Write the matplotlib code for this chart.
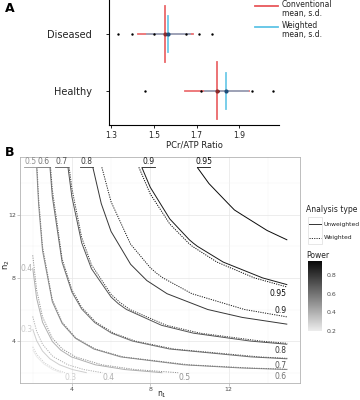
import matplotlib
matplotlib.use('Agg')
import matplotlib.pyplot as plt
import numpy as np
from matplotlib.colors import LinearSegmentedColormap, Normalize
from matplotlib.lines import Line2D

# ---- panel A data ----
groups = ['Diseased', 'Healthy']
diseased_vals = [1.33, 1.40, 1.50, 1.56, 1.65, 1.71, 1.77]
healthy_vals = [1.46, 1.72, 1.80, 1.84, 1.96, 2.06]
conv_mean = [1.554, 1.795]
conv_sd = [0.127, 0.15]
wtd_mean = [1.567, 1.84]
wtd_sd = [0.10, 0.10]

# ---- panel B data: contour lines, (n1, n2) ----
u95 = [(10.4, 15), (11, 13.97), (12, 12.68), (12.3, 12.3), (12.68, 12), (13.97, 11), (15, 10.4)]
u90 = [(7.57, 15), (8, 13.74), (9, 11.73), (10, 10.41), (10.2, 10.2), (10.41, 10), (11.73, 9),
       (13.74, 8), (15, 7.57)]
u80 = [(5.07, 15), (5.5, 12.7), (6, 10.94), (7, 8.86), (7.83, 7.83), (8.86, 7), (10.94, 6),
       (12.7, 5.5), (15, 5.07)]
u70 = [(3.8, 15), (4, 13.13), (4.5, 10.22), (5, 8.58), (6, 6.79), (6.37, 6.37), (6.79, 6),
       (8.58, 5), (10.22, 4.5), (13.13, 4), (15, 3.8)]
u60 = [(2.88, 15), (3, 13.15), (3.5, 8.99), (4, 7.1), (4.5, 6.03), (5.17, 5.17), (6.03, 4.5),
       (7.1, 4), (8.99, 3.5), (13.15, 3), (15, 2.88)]
u50 = [(2.2, 15), (2.3, 12.63), (2.5, 9.72), (3, 6.49), (3.5, 5.12), (4.18, 4.18), (5.12, 3.5),
       (6.49, 3), (9.72, 2.5), (12.63, 2.3), (15, 2.2)]
u40 = [(2, 8.62), (2.2, 6.71), (2.5, 5.2), (3, 3.98), (3.43, 3.43), (3.98, 3), (5.2, 2.5),
       (6.71, 2.2), (8.62, 2)]
u30 = [(2, 4.76), (2.2, 4.03), (2.5, 3.37), (2.88, 2.88), (3.37, 2.5), (4.03, 2.2), (4.76, 2)]
u20 = [(2, 3.45), (2.2, 3.02), (2.56, 2.56), (3.02, 2.2), (3.45, 2)]

w95 = [(7.42, 15), (8, 13.32), (9, 11.41), (10, 10.15), (10.08, 10.08), (10.15, 10), (11.41, 9),
       (13.32, 8), (15, 7.42)]
w90 = [(5.53, 15), (6, 12.82), (7, 10.13), (8, 8.65), (8.31, 8.31), (8.65, 8), (10.13, 7),
       (12.82, 6), (15, 5.53)]
w80 = [(3.86, 15), (4, 13.66), (4.5, 10.56), (5, 8.83), (6, 6.96), (6.45, 6.45), (6.96, 6),
       (8.83, 5), (10.56, 4.5), (13.66, 4), (15, 3.86)]
w70 = [(2.91, 15), (3, 13.59), (3.5, 9.21), (4, 7.25), (4.5, 6.14), (5.21, 5.21), (6.14, 4.5),
       (7.25, 4), (9.21, 3.5), (13.59, 3), (15, 2.91)]
w60 = [(2.22, 15), (2.3, 13.04), (2.5, 9.98), (3, 6.62), (3.5, 5.2), (4.2, 4.2), (5.2, 3.5),
       (6.62, 3), (9.98, 2.5), (13.04, 2.3), (15, 2.22)]
w50 = [(2, 9.43), (2.2, 7.23), (2.5, 5.53), (3, 4.19), (3.51, 3.51), (4.19, 3), (5.53, 2.5),
       (7.23, 2.2), (9.43, 2)]
w40 = [(2, 5.56), (2.2, 4.62), (2.5, 3.8), (3.03, 3.03), (3.8, 2.5), (4.62, 2.2), (5.56, 2)]
w30 = [(2, 3.64), (2.2, 3.17), (2.61, 2.61), (3.17, 2.2), (3.64, 2)]

unweighted = [(0.95, u95), (0.9, u90), (0.8, u80), (0.7, u70), (0.6, u60),
              (0.5, u50), (0.4, u40), (0.3, u30), (0.2, u20)]
weighted = [(0.95, w95), (0.9, w90), (0.8, w80), (0.7, w70), (0.6, w60),
            (0.5, w50), (0.4, w40), (0.3, w30)]

W, H = 360, 400
fig = plt.figure(figsize=(3.6, 4.0), dpi=100)

def box(l, t, r, b):
    return [l / W, 1 - b / H, (r - l) / W, (b - t) / H]

def fmt(v):
    return ('%.2f' % v).rstrip('0')

red = '#e8575a'
blue = '#5ec4e6'
txt = '#222222'

# ================= panel A =================
axA = fig.add_axes(box(109, 0, 279, 125))
ypos = [1, 2]
for y, vals in zip(ypos, [diseased_vals, healthy_vals]):
    axA.scatter(vals, [y] * len(vals), s=3, color='black', zorder=4, linewidths=0)
for i, y in enumerate(ypos):
    m, s = conv_mean[i], conv_sd[i]
    axA.plot([m - s, m + s], [y, y], color=red, lw=1.3, alpha=0.85, zorder=2)
    axA.plot([m, m], [y - 0.5, y + 0.5], color=red, lw=1.3, alpha=0.9, zorder=2)
    mw, sw = wtd_mean[i], wtd_sd[i]
    axA.plot([mw - sw, mw + sw], [y, y], color=blue, lw=1.3, alpha=0.6, zorder=3)
    axA.plot([mw, mw], [y - 0.32, y + 0.32], color=blue, lw=1.3, alpha=0.9, zorder=3)
    axA.scatter([m], [y], s=9, color='#8b2a2a', zorder=5, linewidths=0)
    axA.scatter([mw], [y], s=9, color='#1f4e79', zorder=5, linewidths=0)

axA.set_xlim(1.29, 2.086)
axA.set_ylim(2.6, 0.4)
axA.set_yticks(ypos)
axA.set_yticklabels(groups, fontsize=7, color=txt)
axA.set_xticks([1.3, 1.5, 1.7, 1.9])
axA.set_xticklabels(['1.3', '1.5', '1.7', '1.9'], fontsize=5.5, color=txt)
axA.set_xlabel('PCr/ATP Ratio', fontsize=6, labelpad=1, color=txt)
for sp in ['top', 'right']:
    axA.spines[sp].set_visible(False)
for sp in ['left', 'bottom']:
    axA.spines[sp].set_linewidth(0.8)
axA.tick_params(length=2.5, width=0.6, pad=1.5)
axA.tick_params(axis='y', pad=10)
fig.text(5 / W, 1 - 8 / H, 'A', fontsize=9, fontweight='bold', va='center')

# legend A
fig.add_artist(Line2D([255 / W, 278 / W], [1 - 6 / H, 1 - 6 / H], color=red, lw=1.3))
fig.add_artist(Line2D([255 / W, 278 / W], [1 - 27 / H, 1 - 27 / H], color=blue, lw=1.3))
fig.text(282 / W, 1 - 9 / H, 'Conventional\nmean, s.d.', fontsize=5.5, va='center',
         linespacing=1.0, color=txt)
fig.text(282 / W, 1 - 30 / H, 'Weighted\nmean, s.d.', fontsize=5.5, va='center',
         linespacing=1.0, color=txt)

# ================= panel B =================
axB = fig.add_axes(box(20, 157, 300, 383))
cmap = LinearSegmentedColormap.from_list('pw', ['#ececec', '#0a0a0a'])
norm = Normalize(0.2, 0.95)

for lev, pts in unweighted:
    x, y = zip(*pts)
    axB.plot(x, y, color=cmap(norm(lev)), lw=0.7, solid_capstyle='butt', solid_joinstyle='round')
for lev, pts in weighted:
    x, y = zip(*pts)
    axB.plot(x, y, color=cmap(norm(lev)), lw=0.7, ls=(0, (1.2, 1.2)))

lab_fs = 5.5
# top labels (unweighted), underlined
for lev, pts in unweighted:
    if pts[0][1] >= 14.9:
        x0 = pts[0][0]
        c = cmap(norm(lev))
        if lev >= 0.85:
            xa, xb = x0, x0 + 0.65
        else:
            xa, xb = x0 - 0.65, x0
        axB.text((xa + xb) / 2, 15.1, fmt(lev), fontsize=lab_fs, color=c, ha='center',
                 va='bottom')
        axB.plot([xa, xb], [15.0, 15.0], color=c, lw=0.6)
# right labels (weighted)
for lev, pts in weighted:
    if pts[-1][0] >= 14.9:
        y_end = pts[-1][1]
        if lev == 0.9:
            axB.text(14.97, y_end + 0.15, fmt(lev), fontsize=lab_fs, color=cmap(norm(lev)),
                     ha='right', va='bottom')
        else:
            axB.text(14.97, y_end - 0.15, fmt(lev), fontsize=lab_fs, color=cmap(norm(lev)),
                     ha='right', va='top')
# bottom labels (weighted)
for lev, pts in weighted:
    if pts[-1][1] <= 2.05:
        axB.text(pts[-1][0], 1.72, fmt(lev), fontsize=lab_fs, color=cmap(norm(lev)),
                 ha='left', va='center')
# left labels (unweighted)
for lev, pts in unweighted:
    if pts[0][0] <= 2.05 and lev > 0.25:
        axB.text(1.97, pts[0][1] - 0.05, fmt(lev), fontsize=lab_fs, color=cmap(norm(lev)),
                 ha='right', va='center')

axB.set_xlim(1.35, 15.65)
axB.set_ylim(1.35, 15.65)
axB.set_xticks([4, 8, 12])
axB.set_yticks([4, 8, 12])
axB.set_xticks([2, 6, 10, 14], minor=True)
axB.set_yticks([2, 6, 10, 14], minor=True)
axB.grid(which='major', color='#e6e6e6', lw=0.5)
axB.grid(which='minor', color='#f2f2f2', lw=0.3)
axB.set_axisbelow(True)
for sp in axB.spines.values():
    sp.set_color('#b3b3b3')
    sp.set_linewidth(0.6)
axB.tick_params(which='major', length=2, width=0.5, color='#b3b3b3', labelsize=4.5,
                labelcolor='#4d4d4d', pad=1)
axB.tick_params(which='minor', length=0)
fig.text(162 / W, 1 - 395 / H, r'n$_1$', fontsize=5.5, color=txt, ha='center', va='center')
fig.text(7 / W, 1 - 265 / H, r'n$_2$', fontsize=6, color=txt, ha='center', va='center',
         rotation=90)
fig.text(5 / W, 1 - 152 / H, 'B', fontsize=9, fontweight='bold', va='center')

# legend B
fig.text(306 / W, 1 - 210 / H, 'Analysis type', fontsize=5.5, va='center', color=txt)
fig.add_artist(plt.Rectangle((308 / W, 1 - 244 / H), 14 / W, 27 / H, transform=fig.transFigure,
                             facecolor='white', edgecolor='#dddddd', lw=0.5))
fig.add_artist(Line2D([309 / W, 321 / W], [1 - 224 / H, 1 - 224 / H], color='#333333', lw=0.7))
fig.add_artist(Line2D([309 / W, 321 / W], [1 - 238 / H, 1 - 238 / H], color='#333333', lw=0.7,
                      ls=(0, (1.2, 1.2))))
fig.text(323.5 / W, 1 - 224 / H, 'Unweighted', fontsize=4.3, va='center', color=txt)
fig.text(323.5 / W, 1 - 238 / H, 'Weighted', fontsize=4.3, va='center', color=txt)
fig.text(306 / W, 1 - 256 / H, 'Power', fontsize=5.5, va='center', color=txt)

cax = fig.add_axes(box(308, 261, 322, 331))
grad = np.linspace(0.2, 0.95, 100).reshape(-1, 1)
cax.imshow(grad, aspect='auto', cmap=cmap, norm=norm, origin='lower', extent=[0, 1, 0.2, 0.95])
cax.set_xticks([])
cax.yaxis.tick_right()
cax.set_yticks([0.2, 0.4, 0.6, 0.8])
cax.set_yticklabels(['0.2', '0.4', '0.6', '0.8'])
cax.tick_params(axis='y', length=0, labelsize=4.5, labelcolor='#4d4d4d', pad=3)
for sp in cax.spines.values():
    sp.set_visible(False)

fig.savefig('out.png', dpi=100)
